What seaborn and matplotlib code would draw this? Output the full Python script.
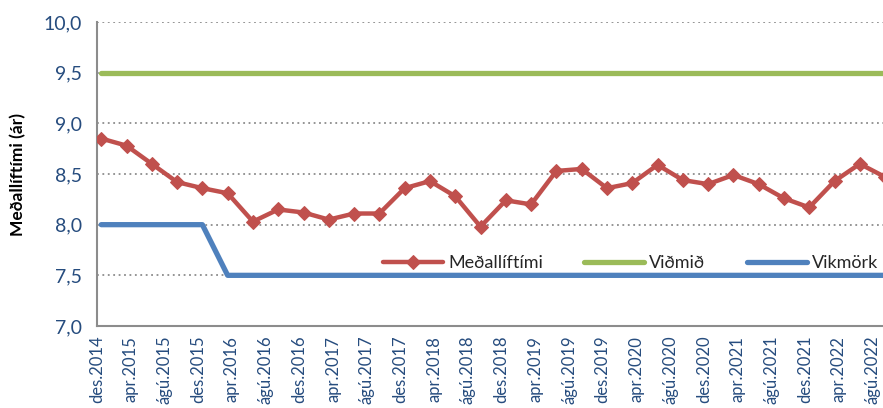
import matplotlib
matplotlib.use("Agg")
import matplotlib.pyplot as plt
import numpy as np
import pandas as pd
import seaborn as sns

# Quarterly observations, des.2014 onwards
start = "2014-12-01"
medallíftími = [8.85, 8.78, 8.60, 8.42, 8.36, 8.31, 8.03, 8.15, 8.12, 8.05, 8.11,
                8.11, 8.36, 8.43, 8.28, 7.98, 8.24, 8.20, 8.53, 8.55, 8.36, 8.41,
                8.59, 8.44, 8.40, 8.49, 8.40, 8.26, 8.17, 8.43, 8.60, 8.47]
vidmid = [9.5] * 32
vikmork = [8.0] * 5 + [7.5] * 27
month_names = {12: "des", 4: "apr", 8: "ágú"}
y_ticks = [7.0, 7.5, 8.0, 8.5, 9.0, 9.5, 10.0]

dates = pd.date_range(start, periods=len(medallíftími), freq="3MS")
tick_dates = pd.date_range(start, periods=24, freq="4MS")
t0 = pd.Timestamp(start)


def month_index(d):
    return (d.year - t0.year) * 12 + (d.month - t0.month)


df = pd.DataFrame({
    "x": [month_index(d) + 0.5 for d in dates],  # Excel date axis: point in mid-month
    "Meðallíftími": medallíftími,
    "Viðmið": vidmid,
    "Vikmörk": vikmork,
})

sns.set_style("white")
plt.rcParams["font.family"] = ["Lato", "DejaVu Sans"]

fig = plt.figure(figsize=(8.83, 4.08), dpi=100)
ax = fig.add_axes([97 / 883, 1 - 326 / 408, 1 - 97 / 883, 304 / 408])

red, green, blue = "#C0504D", "#9BBB59", "#4F81BD"
sns.lineplot(data=df, x="x", y="Meðallíftími", ax=ax, color=red, lw=3.2,
             marker="D", markersize=7.5, markeredgecolor=red, label="Meðallíftími", zorder=4)
sns.lineplot(data=df, x="x", y="Viðmið", ax=ax, color=green, lw=3.8,
             label="Viðmið", zorder=3, solid_capstyle="round")
sns.lineplot(data=df, x="x", y="Vikmörk", ax=ax, color=blue, lw=3.8,
             label="Vikmörk", zorder=3, solid_capstyle="round")

ax.set_xlim(0, 93.25)
ax.set_ylim(7.0, 10.0)
ax.set_yticks(y_ticks)
ax.set_yticklabels([f"{v:.1f}".replace(".", ",") for v in y_ticks])
ax.set_xticks([month_index(d) for d in tick_dates])
ax.set_xticklabels([f"{month_names[d.month]}.{d.year}" for d in tick_dates], rotation=90)

ax.yaxis.grid(True, linestyle=(0, (1, 2)), color="#8C8C8C", lw=1.3)
ax.xaxis.grid(False)
for s in ["top", "right"]:
    ax.spines[s].set_visible(False)
for s in ["left", "bottom"]:
    ax.spines[s].set_color("#8C8C8C")
    ax.spines[s].set_linewidth(1.5)

ax.tick_params(axis="both", direction="out", length=5, width=1.3, color="#8C8C8C",
               colors="#8C8C8C")
ax.tick_params(axis="y", labelsize=14, labelcolor="#264C7E", pad=6)
ax.tick_params(axis="x", labelsize=12, labelcolor="#264C7E", pad=2)

ax.set_xlabel("")
ax.set_ylabel("Meðallíftími (ár)", fontsize=12.5, fontweight="bold", color="black", labelpad=12)

ax.legend(loc="center left", bbox_to_anchor=((383 - 97) / 786, (326 - 263) / 304),
          ncol=3, frameon=False, fontsize=13, handlelength=3.3, handletextpad=0.3,
          columnspacing=2.3, borderpad=0, borderaxespad=0)

fig.savefig("out.png", dpi=100)
